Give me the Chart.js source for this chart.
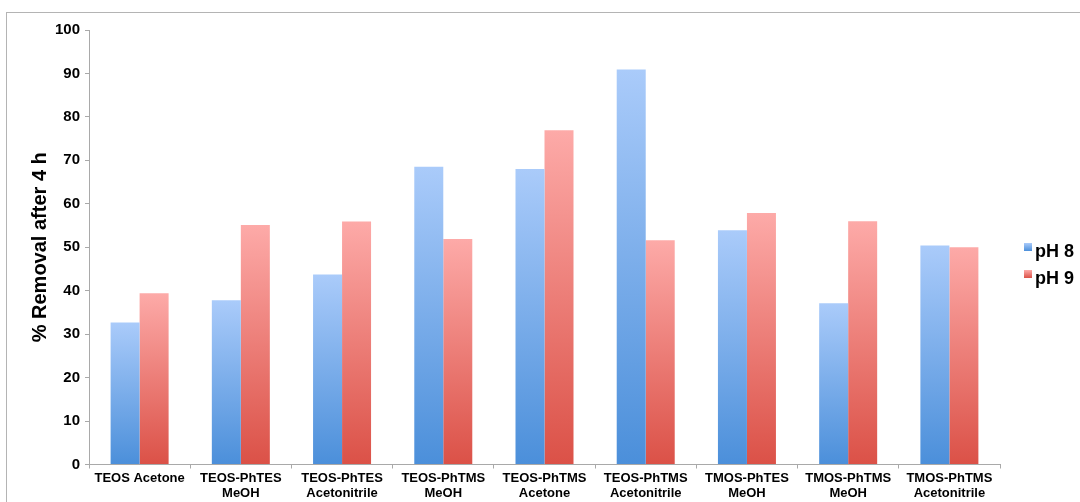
<!DOCTYPE html>
<html>
<head>
<meta charset="utf-8">
<script src="https://cdn.jsdelivr.net/npm/chart.js@4"></script>
<style>
  html, body { margin: 0; padding: 0; background: #fff; }
  #wrap { width: 1080px; height: 502px; }
</style>
</head>
<body>
<div id="wrap"><canvas id="chart" width="1080" height="502"></canvas></div>
<script>
// Samples (two-line labels)
const categories = [
  ['TEOS Acetone'],
  ['TEOS-PhTES', 'MeOH'],
  ['TEOS-PhTES', 'Acetonitrile'],
  ['TEOS-PhTMS', 'MeOH'],
  ['TEOS-PhTMS', 'Acetone'],
  ['TEOS-PhTMS', 'Acetonitrile'],
  ['TMOS-PhTES', 'MeOH'],
  ['TMOS-PhTMS', 'MeOH'],
  ['TMOS-PhTMS', 'Acetonitrile'],
];
const seriesNames = ['pH 8', 'pH 9'];
const ph8 = [32.7, 37.8, 43.7, 68.5, 68.0, 90.9, 53.9, 37.1, 50.4];
const ph9 = [39.4, 55.1, 55.9, 51.9, 76.9, 51.6, 57.9, 56.0, 50.0];
const yTicks = [0, 10, 20, 30, 40, 50, 60, 70, 80, 90, 100];

const FONT = "'Liberation Sans', Helvetica, Arial, sans-serif";
const AXIS_GREY = '#a9a9a9';

// light at the top of each bar, darker at its base
const fills = [
  { top: '#aacbfa', bottom: '#4b8fda' },
  { top: '#fdaaa8', bottom: '#db5147' },
];

function barGradient(idx) {
  return function (ctx) {
    const chart = ctx.chart;
    const y = chart.scales.y;
    if (!chart.chartArea || !y || ctx.raw == null) return fills[idx].bottom;
    const g = chart.ctx.createLinearGradient(0, y.getPixelForValue(ctx.raw), 0, y.getPixelForValue(0));
    g.addColorStop(0, fills[idx].top);
    g.addColorStop(1, fills[idx].bottom);
    return g;
  };
}

// thin frame around the whole chart, running off the right/bottom edges
const framePlugin = {
  id: 'frame',
  beforeDraw(chart) {
    const c = chart.ctx;
    c.save();
    c.strokeStyle = '#b4b4b4';
    c.lineWidth = 1;
    c.strokeRect(6.5, 12.5, 1200, 600);
    c.restore();
  },
};

// small square swatches + bold labels to the right of the plot
const legendPlugin = {
  id: 'sideLegend',
  afterDraw(chart) {
    const c = chart.ctx;
    const x = chart.chartArea.right + 24;
    const y0 = 247;
    c.save();
    chart.data.datasets.forEach((ds, i) => {
      const y = y0 + i * 27;
      const g = c.createLinearGradient(0, y - 4, 0, y + 4);
      g.addColorStop(0, fills[i].top);
      g.addColorStop(1, fills[i].bottom);
      c.fillStyle = g;
      c.fillRect(x, y - 4, 8, 8);
      c.fillStyle = '#000';
      c.font = 'bold 18px ' + FONT;
      c.textBaseline = 'middle';
      c.fillText(ds.label, x + 11, y + 5);
    });
    c.restore();
  },
};

new Chart(document.getElementById('chart').getContext('2d'), {
  type: 'bar',
  data: {
    labels: categories,
    datasets: [
      { label: seriesNames[0], data: ph8, backgroundColor: barGradient(0), borderWidth: 0 },
      { label: seriesNames[1], data: ph9, backgroundColor: barGradient(1), borderWidth: 0 },
    ],
  },
  options: {
    responsive: false,
    animation: false,
    devicePixelRatio: 1,
    layout: { padding: { left: 0, top: 30, right: 80, bottom: 0 } },
    datasets: { bar: { categoryPercentage: 0.573, barPercentage: 1.0 } },
    plugins: {
      legend: { display: false },
      tooltip: { enabled: false },
    },
    scales: {
      x: {
        afterFit: scale => { scale.height = 37.5; },
        grid: {
          display: true,
          drawOnChartArea: false,
          drawTicks: true,
          tickLength: 4,
          color: AXIS_GREY,
          offset: true,
        },
        border: { display: true, color: AXIS_GREY, width: 1 },
        ticks: {
          color: '#000',
          font: { family: FONT, size: 13, weight: 'bold', lineHeight: 1.2 },
          padding: 2,
          maxRotation: 0,
          autoSkip: false,
        },
      },
      y: {
        min: 0,
        max: 100,
        afterFit: scale => { scale.width = 89; },
        afterBuildTicks: scale => { scale.ticks = yTicks.map(v => ({ value: v })); },
        grid: {
          display: true,
          drawOnChartArea: false,
          drawTicks: true,
          tickLength: 4,
          color: AXIS_GREY,
        },
        border: { display: true, color: AXIS_GREY, width: 1 },
        ticks: {
          color: '#000',
          font: { family: FONT, size: 15, weight: 'bold' },
          padding: 5,
        },
        title: {
          display: true,
          text: '% Removal after 4 h',
          color: '#000',
          font: { family: FONT, size: 20, weight: 'bold', lineHeight: 1.2 },
          padding: { top: 28, bottom: 0 },
        },
      },
    },
  },
  plugins: [framePlugin, legendPlugin],
});
</script>
</body>
</html>
